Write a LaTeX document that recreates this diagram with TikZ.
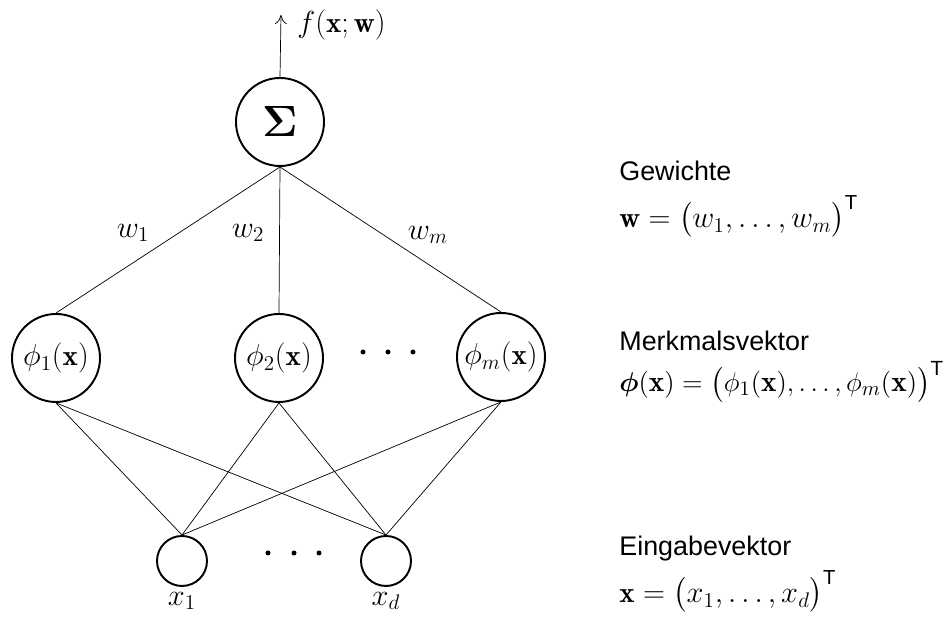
\documentclass[tikz,border=0pt]{standalone}
\usepackage{amsmath,amssymb}
\usepackage{fontspec}
\newfontfamily\labelfont{Liberation Sans}
\usetikzlibrary{positioning}
\usetikzlibrary{arrows.meta}

\tikzset{
	neuron/.style={circle,draw,line width=1.1pt,inner sep=0pt,minimum size=1.76cm},
	inneuron/.style={circle,draw,line width=1.1pt,inner sep=0pt,minimum size=1cm},
	desc/.style={anchor=west,inner sep=0pt},
	pt/.style={circle,fill,inner sep=0pt,minimum size=0.1cm}
}
\newcommand{\trsp}{^{\text{\labelfont T}}}
\newcommand{\txtsize}{\fontsize{15.3}{18}\selectfont}

\begin{document}
\begin{tikzpicture}[font=\fontsize{16.5}{19}\selectfont]
	\useasboundingbox (0,0) rectangle (18.98,12.42);
	% Ausgabeneuron
	\node[neuron] (S) at (5.60,9.98) {\fontsize{29}{30}\selectfont$\boldsymbol{\Sigma}$};
	\coordinate (out) at (5.62,12.12);
	\node[anchor=west,inner sep=0pt] (f) at (5.94,11.92) {$f(\mathbf{x};\mathbf{w})$};
	% Merkmale
	\node[neuron] (P1) at (1.12,5.26) {$\phi_1(\mathbf{x})$};
	\node[neuron] (P2) at (5.58,5.26) {$\phi_2(\mathbf{x})$};
	\node[neuron] (Pm) at (10.02,5.28) {$\phi_m(\mathbf{x})$};
	\foreach \i/\xx in {1/7.26,2/7.76,3/8.26}
		\node[pt] (pd\i) at (\xx,5.38) {};
	% Eingaben
	\node[inneuron] (X1) at (3.64,1.20) {};
	\node[inneuron] (Xd) at (7.72,1.20) {};
	\foreach \i/\xx in {1/5.36,2/5.88,3/6.38}
		\node[pt] (xd\i) at (\xx,1.36) {};
	\node (lx1) at (3.64,0.40) {$x_1$};
	\node (lxd) at (7.72,0.40) {$x_d$};
	% Verbindungen
	\draw[-{To[length=1.8mm,width=2.4mm]}] (S.north) -- (out);
	\draw (S.south) -- (P1.north);
	\draw (S.south) -- (P2.north);
	\draw (S.south) -- (Pm.north);
	\foreach \p in {P1,P2,Pm}
		\foreach \x in {X1,Xd}
			\draw (\p.south) -- (\x.north);
	\node (w1) at (2.66,7.76) {$w_1$};
	\node (w2) at (4.96,7.76) {$w_2$};
	\node (wm) at (8.56,7.72) {$w_m$};
	% Beschreibung
	\node[desc] (g) at (12.38,9.00) {\txtsize\labelfont Gewichte};
	\node[desc] (gf) at (12.38,8.08) {$\mathbf{w}=\bigl(w_1,\dots,w_m\bigr)\trsp$};
	\node[desc] (m) at (12.38,5.60) {\txtsize\labelfont Merkmalsvektor};
	\node[desc] (mf) at (12.38,4.78) {\scalebox{1.07}{\fontsize{15.6}{18}\selectfont$\boldsymbol{\phi}(\mathbf{x})=\bigl(\phi_1(\mathbf{x}),\dots,\phi_m(\mathbf{x})\bigr)\trsp$}};
	\node[desc] (e) at (12.38,1.44) {\txtsize\labelfont Eingabevektor};
	\node[desc] (ef) at (12.38,0.58) {$\mathbf{x}=\bigl(x_1,\dots,x_d\bigr)\trsp$};
\end{tikzpicture}
\end{document}
